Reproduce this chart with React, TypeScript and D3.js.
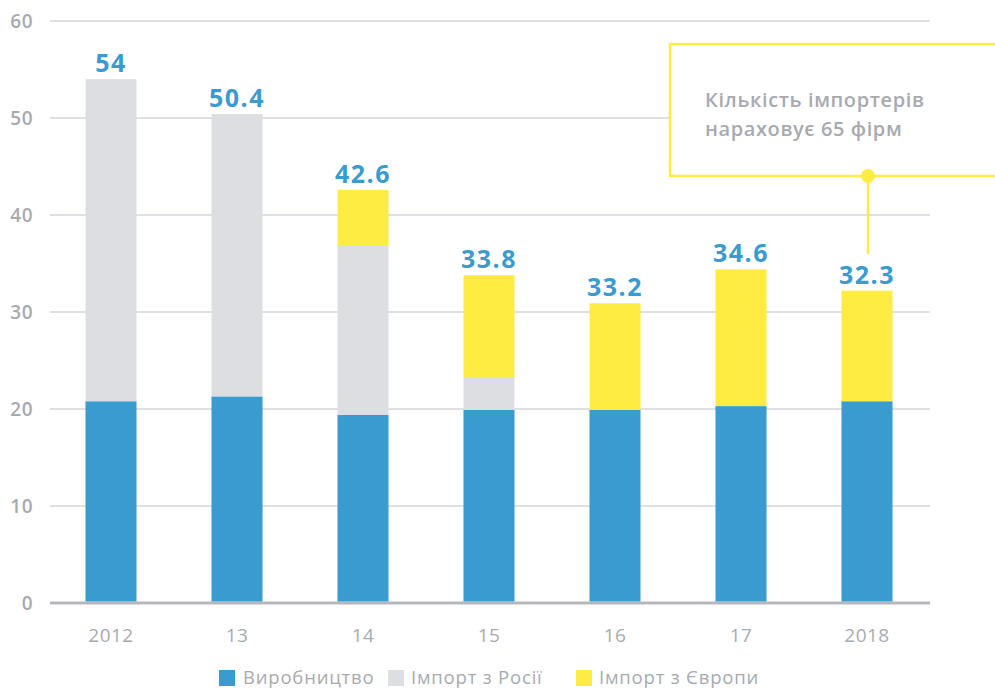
import React from 'react'
import * as d3 from 'd3'

const years = ['2012', '13', '14', '15', '16', '17', '2018']
const production = [20.8, 21.3, 19.4, 19.9, 19.9, 20.3, 20.8]
const importRussia = [33.2, 29.1, 17.5, 3.4, 0, 0, 0]
const importEurope = [0, 0, 5.7, 10.5, 11.0, 14.1, 11.4]
const totalLabels = ['54', '50.4', '42.6', '33.8', '33.2', '34.6', '32.3']
const yTicks = [0, 10, 20, 30, 40, 50, 60]

const seriesNames = ['Виробництво', 'Імпорт з Росії', 'Імпорт з Європи']
const seriesColors = ['#3a9bd0', '#dcdee2', '#feec43']

const W = 995
const H = 690
const FONT = '"Open Sans", Roboto, sans-serif'
const GRAY = '#a8aab0'

export default function App() {
  const rows = years.map((y, i) => ({
    year: y,
    s0: production[i],
    s1: importRussia[i],
    s2: importEurope[i],
  }))
  const stack = d3.stack<any>().keys(['s0', 's1', 's2'])
  const layers = stack(rows)

  const x = d3
    .scaleBand()
    .domain(years)
    .range([48, 930])
    .paddingInner(0.595)
    .paddingOuter(0.2975)
  const y = d3.scaleLinear().domain([0, 60]).range([603, 21])

  const lastX = (x('2018') || 0) + x.bandwidth() / 2
  const boxBottom = 176

  const legendPos = [
    { sq: 219, tx: 243 },
    { sq: 388, tx: 411 },
    { sq: 576, tx: 599 },
  ]

  return (
    <svg
      width={W}
      height={H}
      style={{ position: 'absolute', left: 0, top: 0, background: '#fff' }}
      fontFamily={FONT}
    >
      {yTicks.map((t) => (
        <g key={`grid-${t}`}>
          <line
            x1={50}
            x2={930}
            y1={y(t)}
            y2={y(t)}
            stroke={t === 0 ? '#b5b7bb' : '#dfe0e4'}
            strokeWidth={t === 0 ? 3 : 2}
          />
          <text
            x={33}
            y={y(t)}
            dy="0.35em"
            textAnchor="end"
            fontSize={19}
            fontWeight={600}
            letterSpacing={0.5}
            fill={GRAY}
          >
            {t}
          </text>
        </g>
      ))}

      {layers.map((layer, li) =>
        layer.map((d, i) =>
          d[1] - d[0] > 0 ? (
            <rect
              key={`bar-${li}-${i}`}
              x={x(years[i])}
              width={x.bandwidth()}
              y={y(d[1])}
              height={y(d[0]) - y(d[1]) - (li === 0 ? 1.5 : 0)}
              fill={seriesColors[li]}
            />
          ) : null
        )
      )}

      {rows.map((r, i) => {
        const top = r.s0 + r.s1 + r.s2
        return (
          <text
            key={`lbl-${i}`}
            x={(x(r.year) || 0) + x.bandwidth() / 2}
            y={y(top) - 7}
            textAnchor="middle"
            fontSize={25}
            fontWeight={700}
            letterSpacing={1.5}
            fill="#3a9bd0"
          >
            {totalLabels[i]}
          </text>
        )
      })}

      {years.map((yr) => (
        <text
          key={`x-${yr}`}
          x={(x(yr) || 0) + x.bandwidth() / 2}
          y={642}
          textAnchor="middle"
          fontSize={19}
          letterSpacing={0.5}
          fill={GRAY}
        >
          {yr}
        </text>
      ))}

      {/* annotation */}
      <rect x={670} y={44} width={340} height={boxBottom - 44} fill="#fff" stroke="#feec43" strokeWidth={2.5} />
      <line x1={lastX + 1} x2={lastX + 1} y1={boxBottom} y2={254} stroke="#feec43" strokeWidth={2.5} />
      <circle cx={lastX + 1} cy={boxBottom} r={7} fill="#feec43" />
      <text x={705} y={107} fontSize={20} fontWeight={600} letterSpacing={0.6} fill={GRAY}>
        Кількість імпортерів
      </text>
      <text x={705} y={136} fontSize={20} fontWeight={600} letterSpacing={0.6} fill={GRAY}>
        нараховує 65 фірм
      </text>

      {seriesNames.map((n, i) => (
        <g key={`leg-${i}`}>
          <rect x={legendPos[i].sq} y={670} width={16} height={16} fill={seriesColors[i]} />
          <text x={legendPos[i].tx} y={684} fontSize={18.5} fontWeight={500} letterSpacing={0.8} fill={GRAY}>
            {n}
          </text>
        </g>
      ))}
    </svg>
  )
}
